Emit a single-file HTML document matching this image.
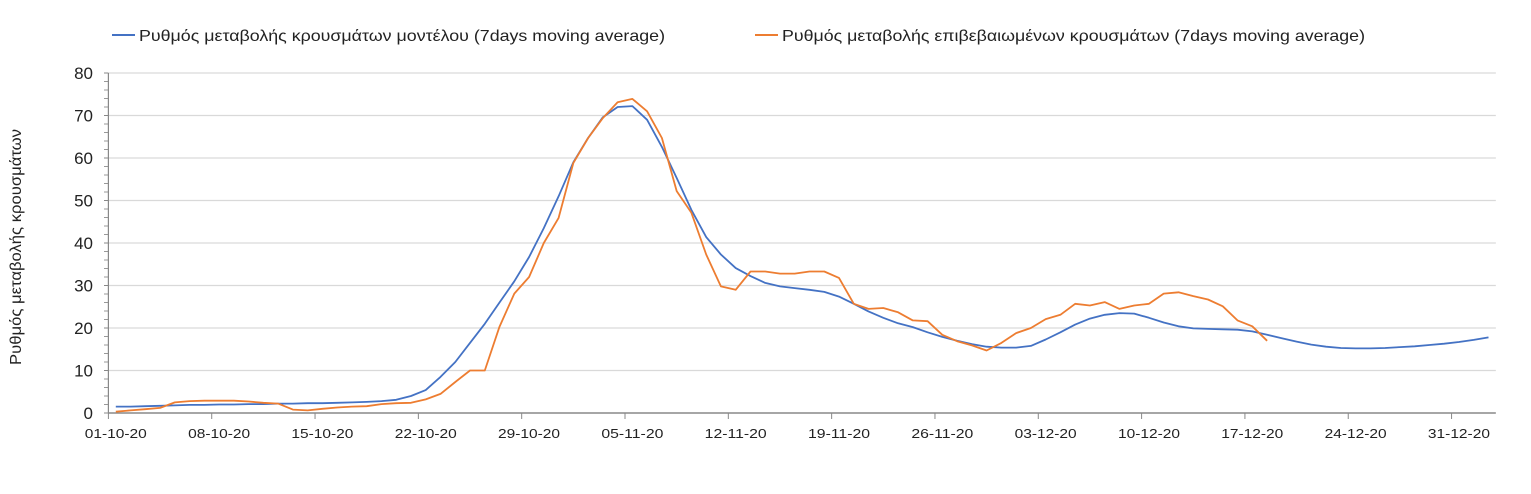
<!DOCTYPE html>
<html><head><meta charset="utf-8"><style>
html,body{margin:0;padding:0;background:#fff;}
svg{display:block;font-family:"Liberation Sans",sans-serif;}
</style></head><body>
<svg id="chart" width="1531" height="494" xmlns="http://www.w3.org/2000/svg">
<g>
 <g>
  <line x1="112" y1="35" x2="135" y2="35" stroke="#4472c4" stroke-width="2"/>
  <text x="139" y="41" font-size="16" fill="#222" textLength="526" lengthAdjust="spacingAndGlyphs">Ρυθμός μεταβολής κρουσμάτων μοντέλου (7days moving average)</text>
 </g>
 <g>
  <line x1="755" y1="35" x2="778" y2="35" stroke="#ed7d31" stroke-width="2"/>
  <text x="782" y="41" font-size="16" fill="#222" textLength="583" lengthAdjust="spacingAndGlyphs">Ρυθμός μεταβολής επιβεβαιωμένων κρουσμάτων (7days moving average)</text>
 </g>
</g>
<text transform="translate(21,247) rotate(-90)" text-anchor="middle" font-size="16" fill="#222" textLength="236" lengthAdjust="spacingAndGlyphs">Ρυθμός μεταβολής κρουσμάτων</text>
<g id="grid"></g><g id="axes"></g><g id="series"></g>
</svg>
<script>
const xLabels=["01-10-20","08-10-20","15-10-20","22-10-20","29-10-20","05-11-20","12-11-20","19-11-20","26-11-20","03-12-20","10-12-20","17-12-20","24-12-20","31-12-20"];
const yTicks=[0,10,20,30,40,50,60,70,80];
const modelValues=[1.5,1.5,1.6,1.7,1.8,1.9,1.9,2.0,2.0,2.1,2.1,2.2,2.2,2.3,2.3,2.4,2.5,2.6,2.8,3.1,4,5.4,8.5,12,16.5,21,26,31,36.7,43.5,51,59,64.7,69.6,72,72.2,69,62.6,55.3,47.8,41.4,37.3,34.1,32.2,30.6,29.8,29.4,29,28.5,27.4,25.7,23.9,22.4,21.1,20.2,19,17.9,17,16.2,15.6,15.4,15.4,15.8,17.3,19,20.8,22.2,23.1,23.5,23.4,22.4,21.3,20.4,19.9,19.8,19.7,19.6,19.2,18.4,17.6,16.8,16.1,15.6,15.3,15.2,15.2,15.3,15.5,15.7,16,16.3,16.7,17.2,17.8];
const confirmedValues=[0.3,0.6,0.9,1.2,2.5,2.8,2.9,2.9,2.9,2.7,2.4,2.2,0.8,0.6,1.0,1.3,1.5,1.6,2.1,2.3,2.4,3.2,4.5,7.3,10,10,20.3,28.1,32,40,45.9,58.8,64.7,69.4,73.1,73.9,71,64.7,52.2,47.1,37.3,29.8,29,33.3,33.3,32.8,32.8,33.3,33.3,31.8,25.7,24.5,24.7,23.7,21.8,21.6,18.4,16.9,15.9,14.7,16.5,18.8,20,22.1,23.1,25.7,25.3,26.1,24.5,25.3,25.7,28.1,28.4,27.5,26.7,25.1,21.8,20.4,17];
const NS="http://www.w3.org/2000/svg";
const X0=108.4,DW=14.76,NCAT=94,Y0=413,YS=4.25;
const xCat=i=>X0+DW*(i+0.5), xEdge=i=>X0+DW*i, y=v=>Y0-v*YS;
function mk(t,a,p){const e=document.createElementNS(NS,t);for(const k in a)e.setAttribute(k,a[k]);p.appendChild(e);return e;}
const grid=document.getElementById('grid'),axes=document.getElementById('axes'),ser=document.getElementById('series');
const right=xEdge(NCAT);
yTicks.forEach(v=>{
 if(v>0){const g=mk('line',{x1:X0,x2:right,y1:y(v),y2:y(v),stroke:'#d9d9d9','stroke-width':1.3},grid);
 
 }
 const t=mk('text',{x:93,y:y(v)+6,'text-anchor':'end','font-size':17,fill:'#222'},axes);t.textContent=v;
 
 
 mk('line',{x1:104,x2:X0,y1:y(v),y2:y(v),stroke:'#888','stroke-width':1},axes);
});
for(let v=2;v<80;v+=2){if(v%10)mk('line',{x1:104,x2:X0,y1:y(v),y2:y(v),stroke:'#999','stroke-width':1},axes);}
const ya=mk('line',{x1:X0,x2:X0,y1:y(80),y2:Y0,stroke:'#888','stroke-width':1.2},axes);


const xa=mk('line',{x1:X0,x2:right,y1:Y0,y2:Y0,stroke:'#888','stroke-width':1.5},axes);


xLabels.forEach((l,k)=>{
 const i=k*7;
 mk('line',{x1:xEdge(i),x2:xEdge(i),y1:Y0,y2:Y0+6,stroke:'#888','stroke-width':1},axes);
 const t=mk('text',{x:xCat(i),y:438,'text-anchor':'middle','font-size':13,fill:'#222',textLength:62,lengthAdjust:'spacingAndGlyphs'},axes);t.textContent=l;
 
 
});
function line(vals,color,name){
 const p=mk('polyline',{points:vals.map((v,i)=>xCat(i).toFixed(1)+','+y(v).toFixed(1)).join(' '),fill:'none',stroke:color,'stroke-width':1.8,'stroke-linejoin':'round'},ser);
 
 
}
line(modelValues,'#4472c4','model-series-line');
line(confirmedValues,'#ed7d31','confirmed-series-line');
</script>
</body></html>
